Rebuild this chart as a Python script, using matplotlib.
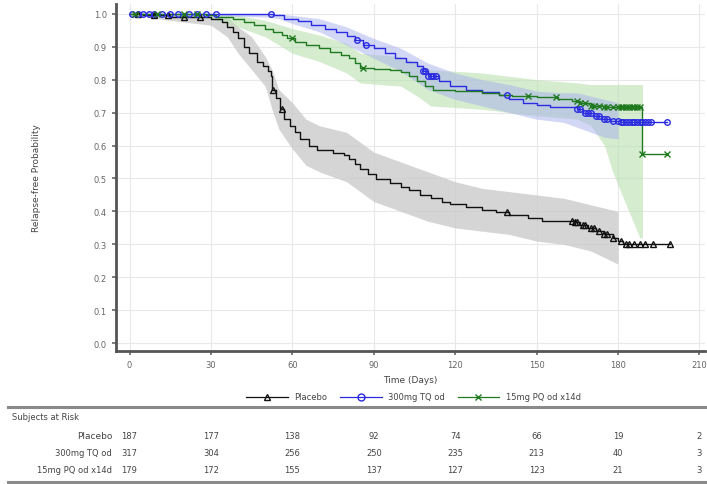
import numpy as np
import matplotlib
matplotlib.use("Agg")
import matplotlib.pyplot as plt
from matplotlib.lines import Line2D
from matplotlib.transforms import blended_transform_factory

# --- KM step curves (time in days, survival) ---
pl_t = [0, 5, 15, 30, 34, 36, 38, 40, 42, 44, 47, 49, 51, 52, 52.5, 54, 55.5, 57, 59, 61, 63, 66, 69,
        75, 79, 81, 83, 85, 88, 91, 96, 100, 103, 107, 111, 115, 118, 124, 130, 135, 140, 147, 152,
        164, 166, 169, 172, 175, 178, 180, 182, 199]
pl_s = [1.0, 0.995, 0.99, 0.985, 0.975, 0.96, 0.945, 0.925, 0.90, 0.88, 0.855, 0.84, 0.827, 0.81, 0.77,
        0.745, 0.71, 0.68, 0.66, 0.64, 0.62, 0.60, 0.585, 0.578, 0.57, 0.56, 0.545, 0.53, 0.515, 0.498,
        0.485, 0.475, 0.465, 0.45, 0.44, 0.43, 0.422, 0.412, 0.405, 0.398, 0.39, 0.38, 0.372, 0.368,
        0.358, 0.35, 0.34, 0.33, 0.32, 0.31, 0.302, 0.302]

tq_t = [0, 53, 57, 62, 67, 72, 76, 80, 83, 86, 90, 94, 98, 102, 106, 108, 110, 114, 118, 124, 130,
        136, 140, 145, 150, 155, 165, 167, 171, 174, 177, 181, 198]
tq_s = [1.0, 0.995, 0.985, 0.977, 0.966, 0.955, 0.945, 0.932, 0.92, 0.905, 0.895, 0.88, 0.865, 0.852,
        0.84, 0.825, 0.81, 0.795, 0.78, 0.77, 0.762, 0.752, 0.742, 0.73, 0.722, 0.717, 0.71, 0.698,
        0.69, 0.682, 0.675, 0.67, 0.67]

pq_t = [0, 28, 32, 38, 42, 46, 50, 53, 56, 58, 61, 65, 70, 74, 78, 81, 83, 85, 90, 96, 100, 103, 106,
        109, 112, 120, 130, 136, 141, 150, 158, 163, 166, 170, 175, 189, 198]
pq_s = [1.0, 0.995, 0.99, 0.985, 0.975, 0.965, 0.955, 0.945, 0.935, 0.925, 0.915, 0.905, 0.895, 0.885,
        0.875, 0.865, 0.85, 0.835, 0.832, 0.828, 0.824, 0.81, 0.795, 0.78, 0.77, 0.765, 0.76, 0.754,
        0.75, 0.747, 0.742, 0.735, 0.728, 0.72, 0.717, 0.574, 0.574]

# --- confidence bands ---
pl_ci_t = [0, 10, 30, 36, 40, 45, 50, 52.5, 55, 60, 65, 70, 80, 85, 90, 100, 110, 120, 130, 140, 150,
           160, 170, 175, 180]
pl_lo = [1.0, 0.985, 0.965, 0.93, 0.88, 0.83, 0.78, 0.71, 0.65, 0.59, 0.54, 0.52, 0.49, 0.46, 0.43,
         0.40, 0.37, 0.35, 0.34, 0.33, 0.31, 0.30, 0.28, 0.26, 0.24]
pl_hi = [1.0, 1.0, 1.0, 0.99, 0.96, 0.93, 0.87, 0.83, 0.77, 0.73, 0.68, 0.66, 0.64, 0.61, 0.58, 0.55,
         0.52, 0.49, 0.47, 0.46, 0.45, 0.44, 0.42, 0.41, 0.40]

tq_ci_t = [0, 50, 55, 60, 70, 80, 90, 100, 110, 120, 130, 140, 150, 160, 165, 170, 175, 180]
tq_lo = [1.0, 0.99, 0.985, 0.97, 0.945, 0.905, 0.865, 0.825, 0.77, 0.74, 0.72, 0.70, 0.68, 0.67,
         0.655, 0.64, 0.625, 0.62]
tq_hi = [1.0, 1.0, 1.0, 0.995, 0.985, 0.96, 0.925, 0.895, 0.85, 0.82, 0.80, 0.785, 0.765, 0.76,
         0.76, 0.75, 0.74, 0.73]

pq_ci_t = [0, 30, 40, 50, 60, 70, 80, 85, 100, 106, 111, 130, 150, 165, 170, 175, 178, 182, 185, 188, 189]
pq_lo = [1.0, 0.985, 0.96, 0.93, 0.88, 0.855, 0.82, 0.79, 0.78, 0.75, 0.72, 0.71, 0.69, 0.68, 0.66,
         0.60, 0.52, 0.44, 0.38, 0.32, 0.32]
pq_hi = [1.0, 1.0, 0.995, 0.98, 0.955, 0.935, 0.91, 0.88, 0.87, 0.85, 0.83, 0.82, 0.80, 0.79, 0.785,
         0.785, 0.785, 0.785, 0.785, 0.785, 0.785]

# --- censoring times ---
pl_cens = [3, 9, 14, 20, 26, 53, 56, 139, 163, 164, 165, 167, 168, 170, 171, 173, 175, 176, 178, 181,
           183, 184, 186, 188, 190, 193, 199]
tq_cens = [1, 3, 5, 7, 9, 12, 15, 18, 22, 25, 28, 32, 52, 84, 87, 108, 109, 110, 111, 112, 113, 139,
           165, 166, 168, 169, 170, 172, 173, 175, 176, 178, 180, 181, 182, 183, 184, 185, 186, 187,
           188, 189, 190, 191, 192, 198]
pq_cens = [2, 10, 20, 25, 60, 86, 147, 157, 165, 166, 168, 170, 171, 173, 175, 176, 178, 180, 181,
           182, 183, 184, 185, 186, 187, 188, 189, 198]

# --- risk table ---
risk_days = [0, 30, 60, 90, 120, 150, 180, 210]
risk_groups = ["Placebo", "300mg TQ od", "15mg PQ od x14d"]
risk_counts = [
    [187, 177, 138, 92, 74, 66, 19, 2],
    [317, 304, 256, 250, 235, 213, 40, 3],
    [179, 172, 155, 137, 127, 123, 21, 3],
]


def surv_at(times, surv, pts):
    idx = np.searchsorted(times, pts, side="right") - 1
    return np.asarray(surv)[idx]


black, blue, green = "#111111", "#2a2ae0", "#1f7a1f"
fig = plt.figure(figsize=(7.07, 4.85), dpi=100)
ax = fig.add_axes([0.164, 0.274, 0.833, 0.716])

# bands
ax.fill_between(pl_ci_t, pl_lo, pl_hi, color="#c8c8c8", alpha=0.75, lw=0, zorder=1)
ax.fill_between(pq_ci_t, pq_lo, pq_hi, color="#b9e0b0", alpha=0.6, lw=0, zorder=1)
ax.fill_between(tq_ci_t, tq_lo, tq_hi, color="#a9b0ee", alpha=0.5, lw=0, zorder=1)

# curves
series = [
    (pl_t, pl_s, pl_cens, black, "^", "Placebo"),
    (tq_t, tq_s, tq_cens, blue, "o", "300mg TQ od"),
    (pq_t, pq_s, pq_cens, green, "x", "15mg PQ od x14d"),
]
handles = []
for t, s, cens, col, mk, lab in series:
    ax.step(t, s, where="post", color=col, lw=1.0, zorder=3)
    ax.plot(cens, surv_at(t, s, cens), ls="none", marker=mk, ms=4, mfc="none",
            mec=col, mew=1.0, zorder=4)
    handles.append(Line2D([0], [0], color=col, lw=0.9, marker=mk, ms=5, mfc="none", mec=col))

ax.set_xlim(-5, 212)
ax.set_ylim(-0.024, 1.03)
ax.set_xticks(risk_days)
ax.set_yticks(np.arange(0, 1.01, 0.1))
ax.set_yticklabels([f"{v:.1f}" for v in np.arange(0, 1.01, 0.1)])
ax.tick_params(labelsize=6, colors="#666666", length=3, width=1.2)
ax.grid(True, color="#e8e8e8", lw=0.8)
ax.set_axisbelow(True)
for sp in ("top", "right"):
    ax.spines[sp].set_visible(False)
for sp in ("left", "bottom"):
    ax.spines[sp].set_color("#555555")
    ax.spines[sp].set_linewidth(2.0)
ax.set_xlabel("Time (Days)", fontsize=6.5, color="#444444", labelpad=4)
ax.set_ylabel("Relapse-free Probability", fontsize=6.5, color="#444444", labelpad=38)

fig.legend(handles, risk_groups, loc="center", bbox_to_anchor=(0.585, 1 - 398 / 485), ncol=3,
           frameon=False, fontsize=6, handlelength=5, columnspacing=1.5, labelcolor="#444444")

# risk table
for yy in (408, 483):
    fig.add_artist(Line2D([0.012, 1.0], [1 - yy / 485] * 2, transform=fig.transFigure,
                          color="#8a8a8a", lw=2.2))
fig.text(12 / 707, 1 - 417 / 485, "Subjects at Risk", fontsize=6, color="#444444", va="center")
tr = blended_transform_factory(ax.transData, fig.transFigure)
for row, (grp, counts) in enumerate(zip(risk_groups, risk_counts)):
    yy = 1 - (437 + row * 17) / 485
    fig.text(112 / 707, yy, grp, fontsize=6.5 if row == 0 else 6, color="#444444",
             ha="right", va="center")
    for d, c in zip(risk_days, counts):
        ax.text(d, yy, str(c), transform=tr, fontsize=6, color="#444444", ha="center",
                va="center", clip_on=False)

fig.savefig("out.png", dpi=100)
